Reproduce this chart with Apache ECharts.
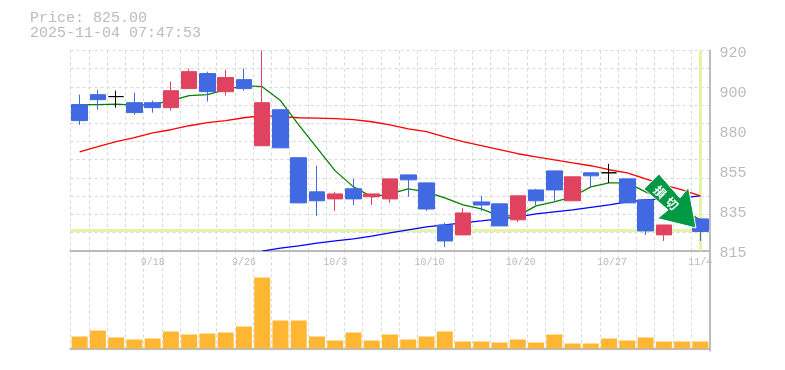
<!DOCTYPE html>
<html><head><meta charset="utf-8">
<style>html,body{margin:0;padding:0;background:#fff}#c{width:785px;height:370px}</style>
<script src="https://cdn.jsdelivr.net/npm/echarts@6/dist/echarts.min.js"></script>
</head><body><div id="c"></div>
<script>
const categories=['9/11','9/12','9/16','9/17','9/18','9/19','9/22','9/24','9/25','9/26','9/29','9/30','10/1','10/2','10/3','10/6','10/7','10/8','10/9','10/10','10/14','10/15','10/16','10/17','10/20','10/21','10/22','10/23','10/24','10/27','10/28','10/29','10/30','10/31','11/4'];
const shownDates=['9/18','9/26','10/3','10/10','10/20','10/27','11/4'];
// open, close, low, high
const candles=[
[891.6,883.2,881,896.8],[896.8,894.2,888.9,899.5],[895.8,895.8,890,898.9],[892.6,887.4,886.3,897.9],[892.6,890,887.4,893.7],
[890,898.9,888.4,903.7],[900,908.9,900,910.5],[907.9,898.4,893.2,908.9],[898.4,905.8,896.3,910],[904.7,900,898.9,910.5],
[870,892.6,870,920],[888.9,868.9,868.9,888.9],[863.7,840,840,863.7],[845.8,841.1,833.2,859.5],[842.1,844.7,835.8,845.8],
[847.4,842.1,838.9,852.6],[843.2,844.7,838.9,844.7],[842.1,852.6,840,852.6],[854.7,852.1,843.2,854.7],[850.5,836.8,835.8,850.5],
[828.4,820,816.8,829.5],[823.2,834.7,823.2,837.4],[840.5,838.9,835.8,843.7],[839.5,827.9,827.9,839.5],[831.1,843.7,830,843.7],
[846.8,841.1,838.9,847.4],[856.8,846.8,841.1,856.8],[841.1,853.7,841.1,853.7],[855.8,854.2,847.9,855.8],[855.8,855.8,850.5,860.5],
[852.6,840,840,852.6],[841.6,825.3,823.2,841.6],[823.2,828.4,820,828.4],[841,830,830,841],[831.6,825,820,831.6]];
const maShort=[891.6,891.6,891.8,891.3,891.6,893.7,896.3,896.8,899.5,901.6,901,893.7,881,868.9,856.8,848.4,843.2,844.7,847.4,845.8,842.6,838.9,836.8,833.2,833.2,838.4,840.5,843.2,848.4,850.5,850.5,845.8,841.6,836.3,831.1];
const maMid=[866.8,869.5,872.1,874.2,876.8,878.4,880.5,882.1,883.2,884.7,885.8,885.3,884.7,884.5,884.2,883.7,882.6,881,878.9,877.4,874.7,872.1,870,867.9,865.8,864.2,862.6,861,859.5,857.4,855.8,852.6,849.5,846.8,843.7];
const maLong=[null,null,null,null,null,null,null,null,null,null,814.7,816.3,817.4,818.9,820,821.1,822.6,824.2,825.8,827.4,828.4,829.5,830.5,831.6,832.6,834.2,835.3,836.3,837.6,838.9,840.5,841.6,842.1,842.6,843.7];
const volumes=[12,18,11,9,10,17,14,15,16,22,71,28,28,12,8,16,8,14,9,12,17,7,7,6,9,6,14,5,5,10,8,11,7,7,7];
const tickValues=[815,836,857,878,899,920];
const tickLabels=['815','835','855','880','900','920'];
const guideLevel=825.5;
const titleLines=['Price: 825.00','2025-11-04 07:47:53'];
const badgeText=['損','切'];

const mono='"Liberation Mono",monospace', grey='#bbb', gridC='#d8d8d8', hl='#e5f3a8';
const dash={color:gridC,width:1,type:[3,3]};
const chart=echarts.init(document.getElementById('c'),null,{renderer:'canvas'});
chart.setOption({
 animation:false,backgroundColor:'#fff',
 title:{text:titleLines.join('\n'),left:30,top:11,padding:0,textStyle:{fontFamily:mono,fontSize:15,fontWeight:'normal',color:grey,lineHeight:15}},
 grid:[{left:70.5,top:50.5,width:639,height:200},{left:70.5,top:250.5,width:639,height:100}],
 xAxis:[
  {type:'category',gridIndex:0,data:categories,boundaryGap:true,
   axisLine:{lineStyle:{color:grey,width:2}},axisTick:{show:false},
   splitLine:{show:true,interval:0,lineStyle:dash},
   axisLabel:{interval:(i,v)=>shownDates.includes(v),hideOverlap:false,showMaxLabel:true,margin:7,fontFamily:mono,fontSize:10,color:grey,
     formatter:v=>v.length>4?' '+v:v}},
  {type:'category',gridIndex:1,data:categories,boundaryGap:true,
   axisLine:{lineStyle:{color:grey,width:2}},axisTick:{show:false},axisLabel:{show:false},
   splitLine:{show:true,interval:0,lineStyle:dash}}
 ],
 yAxis:[
  {type:'value',gridIndex:0,position:'right',min:815,max:920,scale:true,
   axisLine:{show:true,lineStyle:{color:grey,width:2}},axisTick:{show:false},splitLine:{show:false},
   axisLabel:{customValues:tickValues,margin:10,verticalAlign:'top',lineHeight:5,fontFamily:mono,fontSize:15,color:grey,
     formatter:v=>tickLabels[tickValues.indexOf(v)]}},
  {type:'value',gridIndex:0,position:'left',min:0,max:11,interval:1,
   axisLine:{show:false},axisTick:{show:false},axisLabel:{show:false},splitLine:{show:true,lineStyle:dash}},
  {type:'value',gridIndex:1,position:'right',min:-2,max:98,
   axisLine:{show:true,onZero:false,lineStyle:{color:grey,width:2}},axisTick:{show:false},axisLabel:{show:false},splitLine:{show:false}}
 ],
 series:[
  {type:'line',name:'guides',xAxisIndex:0,yAxisIndex:0,data:[],z:1,
   markLine:{silent:true,z:1,symbol:'none',label:{show:false},animation:false,
     lineStyle:{color:hl,width:3,type:'solid'},
     data:[{yAxis:guideLevel},{xAxis:categories[categories.length-1]}]}},
  {type:'line',name:'ma long',xAxisIndex:0,yAxisIndex:0,data:maLong,showSymbol:false,z:2,lineStyle:{color:'#0000ff',width:1.3}},
  {type:'line',name:'ma mid',xAxisIndex:0,yAxisIndex:0,data:maMid,showSymbol:false,z:2,lineStyle:{color:'#ff0000',width:1.3}},
  {type:'line',name:'ma short',xAxisIndex:0,yAxisIndex:0,data:maShort,showSymbol:false,z:2,lineStyle:{color:'#008000',width:1.3}},
  {type:'candlestick',name:'price',xAxisIndex:0,yAxisIndex:0,data:candles,barWidth:16,z:3,
   itemStyle:{color:'#e0435f',color0:'#4169e1',borderColor:'#e0435f',borderColor0:'#4169e1',borderColorDoji:'#000',borderWidth:1}},
  {type:'bar',name:'volume',xAxisIndex:1,yAxisIndex:2,data:volumes,barWidth:16,itemStyle:{color:'#ffb733'}}
 ],
 graphic:[
  {type:'polygon',z:100,shape:{points:[[659,174],[644,189],[668,210],[657.5,218.5],[696,228],[688.5,187.5],[680,198]]},
   style:{fill:'#009944',stroke:'#fff',lineWidth:1}},
  {type:'text',z:101,x:660,y:192,rotation:-Math.PI/4,style:{text:badgeText[0],fill:'#fff',font:'bold 12px "Noto Sans CJK JP"',align:'center',verticalAlign:'middle'}},
  {type:'text',z:101,x:672,y:203.5,rotation:-Math.PI/4,style:{text:badgeText[1],fill:'#fff',font:'bold 12px "Noto Sans CJK JP"',align:'center',verticalAlign:'middle'}}
 ]
});
</script></body></html>
